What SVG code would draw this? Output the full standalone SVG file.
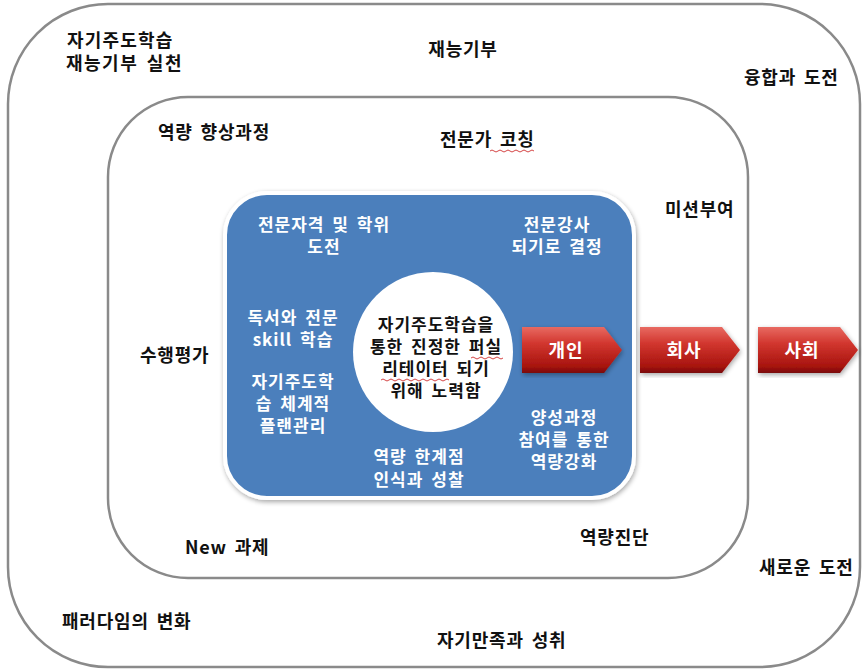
<svg xmlns="http://www.w3.org/2000/svg" width="862" height="670" viewBox="0 0 862 670">
<defs>
<style>
.t{font-family:"Malgun Gothic","Noto Sans CJK KR","Noto Sans",sans-serif;font-weight:bold;font-size:17px;fill:#111;letter-spacing:1px;word-spacing:3px}
.o{font-size:18px;letter-spacing:0.8px}
.a{font-size:18px}
.w{fill:#fff}
.c{text-anchor:middle}
.frame{fill:none;stroke:#8a8a8a;stroke-width:2.5}
.wave{fill:none;stroke:#d03030;stroke-width:0.9}
</style>
<linearGradient id="red" x1="0" y1="0" x2="0" y2="1">
<stop offset="0" stop-color="#e86a62"/>
<stop offset="0.35" stop-color="#d2372f"/>
<stop offset="0.85" stop-color="#a8140f"/>
<stop offset="1" stop-color="#7a0a08"/>
</linearGradient>
<filter id="sh" x="-10%" y="-10%" width="120%" height="120%">
<feGaussianBlur in="SourceAlpha" stdDeviation="2.5"/>
<feOffset dx="1" dy="2" result="b"/>
<feComponentTransfer><feFuncA type="linear" slope="0.35"/></feComponentTransfer>
<feMerge><feMergeNode/><feMergeNode in="SourceGraphic"/></feMerge>
</filter>
<path id="arrow" d="M0,0 H82 L100,23 L82,46 H0 Z"/>
</defs>

<g id="outer">
<rect class="frame" x="8" y="4" width="852" height="663" rx="100" ry="100"/>
<text class="t o"><tspan x="67" y="47" style="letter-spacing:1.2px">자기주도학습</tspan><tspan x="66" y="70" style="letter-spacing:1.5px">재능기부 실천</tspan></text>
<text class="t o c" x="463" y="56">재능기부</text>
<text class="t o" x="744" y="84">융합과 도전</text>
<text class="t o" x="759" y="574">새로운 도전</text>
<text class="t o" x="62" y="628">패러다임의 변화</text>
<text class="t o" x="437" y="647">자기만족과 성취</text>
</g>

<g id="inner">
<rect class="frame" x="108" y="97" width="640" height="481" rx="80" ry="80"/>
<text class="t o" x="158" y="139">역량 향상과정</text>
<text class="t o" x="440" y="146">전문가 코칭</text>
<path class="wave" d="M490,151 q2,-2 4,0 t4,0 t4,0 t4,0 t4,0 t4,0 t4,0 t4,0 t4,0 t4,0 t4,0"/>
<text class="t o" x="665" y="216">미션부여</text>
<text class="t o" x="140" y="362">수행평가</text>
<text class="t o" x="185" y="554">New 과제</text>
<text class="t o" x="580" y="544">역량진단</text>
</g>

<g id="core">
<rect x="225" y="193" width="409" height="305" rx="42" ry="42" fill="#4b7fbc" stroke="#fff" stroke-width="4" filter="url(#sh)"/>
<text class="t w c"><tspan x="324" y="231">전문자격 및 학위</tspan><tspan x="324" y="253">도전</tspan></text>
<text class="t w c"><tspan x="557" y="231">전문강사</tspan><tspan x="557" y="253">되기로 결정</tspan></text>
<text class="t w c"><tspan x="293" y="324">독서와 전문</tspan><tspan x="293" y="346">skill 학습</tspan></text>
<text class="t w c"><tspan x="293" y="388">자기주도학</tspan><tspan x="293" y="410">습 체계적</tspan><tspan x="293" y="432">플랜관리</tspan></text>
<text class="t w c"><tspan x="419" y="463">역량 한계점</tspan><tspan x="419" y="486">인식과 성찰</tspan></text>
<text class="t w c"><tspan x="564" y="424">양성과정</tspan><tspan x="564" y="446">참여를 통한</tspan><tspan x="564" y="468">역량강화</tspan></text>
</g>

<g id="center">
<circle cx="433" cy="352" r="80" fill="#fff"/>
<text class="t c"><tspan x="436" y="331">자기주도학습을</tspan><tspan x="436" y="353">통한 진정한 퍼실</tspan><tspan x="436" y="375">리테이터 되기</tspan><tspan x="436" y="397">위해 노력함</tspan></text>
<path class="wave" d="M471,358 q2,-2 4,0 t4,0 t4,0 t4,0 t4,0 t4,0 t4,0 t4,0"/>
<path class="wave" d="M381,380 q2,-2 4,0 t4,0 t4,0 t4,0 t4,0 t4,0 t4,0 t4,0 t4,0 t4,0 t4,0 t4,0 t4,0 t4,0 t4,0 t4,0 t4,0"/>
</g>

<g id="connectors">
<g id="arrow-personal" transform="translate(522,327)">
<use href="#arrow" fill="url(#red)" filter="url(#sh)"/>
<text class="t a w c" x="44" y="30">개인</text>
</g>
<g id="arrow-company" transform="translate(640,327)">
<use href="#arrow" fill="url(#red)" filter="url(#sh)"/>
<text class="t a w c" x="44" y="30">회사</text>
</g>
<g id="arrow-society" transform="translate(758,327)">
<use href="#arrow" fill="url(#red)" filter="url(#sh)"/>
<text class="t a w c" x="44" y="30">사회</text>
</g>
</g>
</svg>
